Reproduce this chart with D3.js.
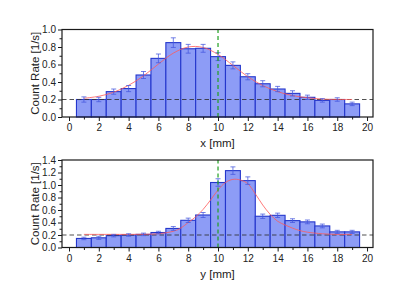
<!DOCTYPE html>
<html>
<head>
<meta charset="utf-8">
<script src="https://cdn.jsdelivr.net/npm/d3@7"></script>
<style>
  body { margin: 0; background: white; }
  svg { display: block; }
  text { font-family: "Liberation Sans", Arial, sans-serif; fill: #222; }
</style>
</head>
<body>
<script>
const width = 415, height = 291;

// bin centres (mm)
const bins = [1, 2, 3, 4, 5, 6, 7, 8, 9, 10, 11, 12, 13, 14, 15, 16, 17, 18, 19];

// x scan
const xRates = [0.20, 0.20, 0.29, 0.325, 0.48, 0.67, 0.85, 0.78, 0.785, 0.69, 0.59, 0.46, 0.38, 0.32, 0.27, 0.225, 0.19, 0.20, 0.15];
const xErrors = [0.03, 0.025, 0.03, 0.035, 0.04, 0.05, 0.055, 0.05, 0.045, 0.045, 0.04, 0.035, 0.035, 0.03, 0.03, 0.025, 0.02, 0.02, 0.02];
const xFitPos = [1, 2, 3, 4, 5, 6, 7, 8, 9, 10, 11, 12, 13, 14, 15, 16, 17, 18, 19];
const xFitVal = [0.214, 0.237, 0.283, 0.362, 0.47, 0.605, 0.73, 0.80, 0.795, 0.715, 0.59, 0.46, 0.36, 0.29, 0.245, 0.22, 0.205, 0.201, 0.20];

// y scan
const yRates = [0.145, 0.155, 0.19, 0.20, 0.21, 0.24, 0.305, 0.435, 0.52, 1.04, 1.23, 1.07, 0.50, 0.515, 0.43, 0.41, 0.345, 0.25, 0.25];
const yErrors = [0.02, 0.025, 0.02, 0.02, 0.02, 0.02, 0.03, 0.035, 0.04, 0.06, 0.06, 0.06, 0.035, 0.035, 0.03, 0.03, 0.03, 0.025, 0.025];
const yFitPos = [1, 2, 3, 4, 5, 6, 7, 7.5, 8, 8.5, 9, 9.5, 10, 10.5, 11, 11.5, 12, 12.5, 13, 13.5, 14, 14.5, 15, 15.5, 16, 17, 18, 19];
const yFitVal = [0.21, 0.21, 0.21, 0.21, 0.212, 0.22, 0.26, 0.31, 0.40, 0.49, 0.61, 0.76, 0.92, 1.04, 1.09, 1.08, 1.02, 0.86, 0.68, 0.53, 0.42, 0.36, 0.31, 0.27, 0.245, 0.22, 0.21, 0.21];

const background = 0.2;
const centre = 10;

const xTicks = [0, 2, 4, 6, 8, 10, 12, 14, 16, 18, 20];

const svg = d3.select("body").append("svg")
    .attr("width", width)
    .attr("height", height);

svg.append("rect")
    .attr("width", width)
    .attr("height", height)
    .attr("fill", "white");

function panel(cfg) {
    const x = d3.scaleLinear().domain([-0.47, 20.4]).range([62, 373]);
    const y = d3.scaleLinear().domain([0, cfg.yMax]).range([cfg.bottom, cfg.top]);
    const g = svg.append("g");

    const data = bins.map((b, i) => ({ b: b, v: cfg.rates[i], e: cfg.errors[i] }));

    // bars
    g.selectAll("rect.bar")
        .data(data)
        .join("rect")
        .attr("class", "bar")
        .attr("x", d => x(d.b - 0.5))
        .attr("y", d => y(d.v))
        .attr("width", d => x(d.b + 0.5) - x(d.b - 0.5))
        .attr("height", d => y(0) - y(d.v))
        .attr("fill", "#8d9cf6")
        .attr("stroke", "#2436cc")
        .attr("stroke-width", 1.1);

    // background level
    g.append("line")
        .attr("x1", x.range()[0]).attr("x2", x.range()[1])
        .attr("y1", y(background)).attr("y2", y(background))
        .attr("stroke", "#333")
        .attr("stroke-opacity", 0.85)
        .attr("stroke-width", 1.2)
        .attr("stroke-dasharray", "4.5,3");

    // fit
    const line = d3.line()
        .x(d => x(d[0]))
        .y(d => y(d[1]))
        .curve(d3.curveCatmullRom.alpha(0.5));
    g.append("path")
        .datum(cfg.fitPos.map((p, i) => [p, cfg.fitVal[i]]))
        .attr("d", line)
        .attr("fill", "none")
        .attr("stroke", "#ff5a5a")
        .attr("stroke-opacity", 0.8)
        .attr("stroke-width", 1);

    // error bars
    const eb = g.selectAll("g.err").data(data).join("g")
        .attr("class", "err")
        .attr("stroke", "#4455dd")
        .attr("stroke-opacity", 0.75)
        .attr("stroke-width", 1);
    eb.append("line")
        .attr("x1", d => x(d.b)).attr("x2", d => x(d.b))
        .attr("y1", d => y(d.v - d.e)).attr("y2", d => y(d.v + d.e));
    eb.append("line")
        .attr("x1", d => x(d.b) - 2.5).attr("x2", d => x(d.b) + 2.5)
        .attr("y1", d => y(d.v + d.e)).attr("y2", d => y(d.v + d.e));
    eb.append("line")
        .attr("x1", d => x(d.b) - 2.5).attr("x2", d => x(d.b) + 2.5)
        .attr("y1", d => y(d.v - d.e)).attr("y2", d => y(d.v - d.e));

    // beam centre
    g.append("line")
        .attr("x1", x(centre)).attr("x2", x(centre))
        .attr("y1", y.range()[0]).attr("y2", y.range()[1])
        .attr("stroke", "#1ea01e")
        .attr("stroke-opacity", 0.85)
        .attr("stroke-width", 1.4)
        .attr("stroke-dasharray", "4,3");

    // frame
    g.append("rect")
        .attr("x", 62).attr("y", cfg.top)
        .attr("width", 311).attr("height", cfg.bottom - cfg.top)
        .attr("fill", "none")
        .attr("stroke", "#1a1a1a")
        .attr("stroke-width", 1.2);

    // axes
    g.append("g")
        .attr("transform", `translate(0,${cfg.bottom})`)
        .call(d3.axisBottom(x).tickValues(xTicks).tickSize(4).tickPadding(3).tickFormat(d3.format("d")));
    g.append("g")
        .attr("transform", `translate(0,${cfg.bottom})`)
        .call(d3.axisBottom(x).tickValues(d3.range(1, 20, 2)).tickSize(2.5).tickFormat(""));
    g.append("g")
        .attr("transform", "translate(62,0)")
        .call(d3.axisLeft(y).tickValues(cfg.yTicks).tickSize(4).tickPadding(2).tickFormat(d3.format(".1f")));
    g.append("g")
        .attr("transform", "translate(62,0)")
        .call(d3.axisLeft(y).tickValues(cfg.yMinor).tickSize(2.5).tickFormat(""));

    g.selectAll(".domain").remove();
    g.selectAll(".tick line").attr("stroke", "#1a1a1a");
    g.selectAll(".tick text").style("font-size", "10px").attr("fill", "#222");

    g.append("text")
        .attr("x", 217.5)
        .attr("y", cfg.bottom + 30)
        .attr("text-anchor", "middle")
        .style("font-size", "11.5px")
        .text(cfg.xLabel);

    g.append("text")
        .attr("transform", `translate(38.5,${(cfg.top + cfg.bottom) / 2}) rotate(-90)`)
        .attr("text-anchor", "middle")
        .style("font-size", "11.5px")
        .text("Count Rate [1/s]");
}

panel({
    top: 29.5, bottom: 117, yMax: 1.0,
    rates: xRates, errors: xErrors, fitPos: xFitPos, fitVal: xFitVal,
    yTicks: [0, 0.2, 0.4, 0.6, 0.8, 1.0],
    yMinor: [0.1, 0.3, 0.5, 0.7, 0.9],
    xLabel: "x [mm]"
});

panel({
    top: 160, bottom: 247.5, yMax: 1.4,
    rates: yRates, errors: yErrors, fitPos: yFitPos, fitVal: yFitVal,
    yTicks: [0, 0.2, 0.4, 0.6, 0.8, 1.0, 1.2, 1.4],
    yMinor: [0.1, 0.3, 0.5, 0.7, 0.9, 1.1, 1.3],
    xLabel: "y [mm]"
});
</script>
</body>
</html>
